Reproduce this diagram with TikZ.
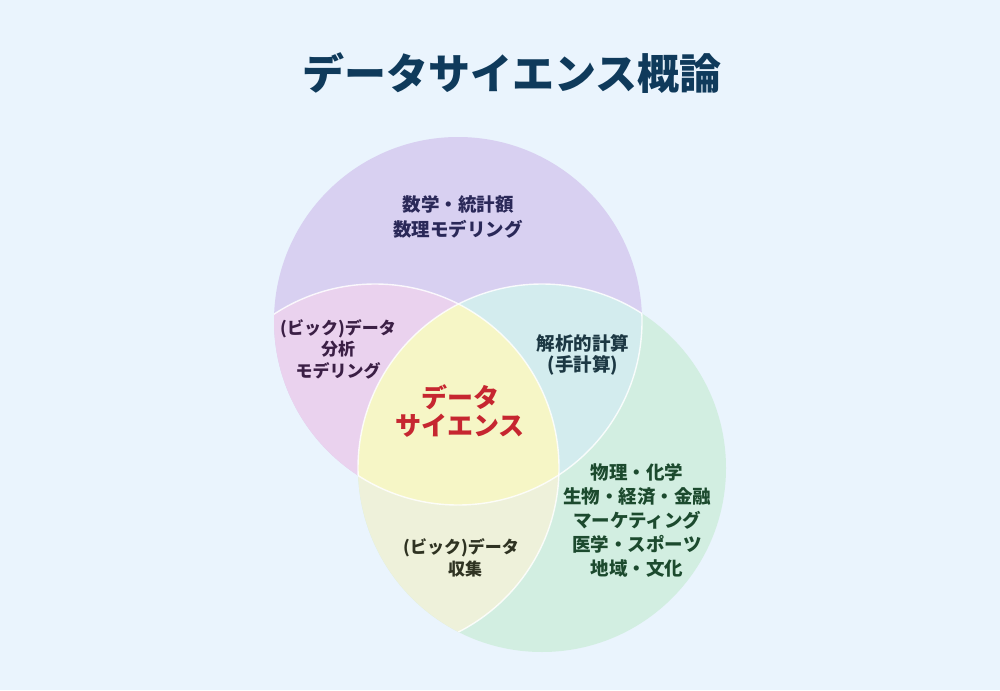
\documentclass[tikz,border=0pt]{standalone}
\usepackage{fontspec}
\setmainfont{Noto Sans CJK JP}
\definecolor{bgc}{HTML}{EAF4FD}
\definecolor{cpur}{HTML}{D8D0F1}
\definecolor{cpink}{HTML}{EAD2EE}
\definecolor{cblue}{HTML}{D3ECEE}
\definecolor{cyel}{HTML}{F6F6C6}
\definecolor{colive}{HTML}{EEF1DA}
\definecolor{cgreen}{HTML}{D2EEE1}
\definecolor{ttitle}{HTML}{0F3A5B}
\definecolor{tpur}{HTML}{2A2858}
\definecolor{tpink}{HTML}{3B1F45}
\definecolor{tblue}{HTML}{1C3843}
\definecolor{tred}{HTML}{C62630}
\definecolor{tolive}{HTML}{2F3322}
\definecolor{tgreen}{HTML}{1C4A2E}
\tikzset{
  lbl/.style={align=center, inner sep=0pt, font=\fontsize{18.5}{25}\selectfont\bfseries},
  lblsmall/.style={align=center, inner sep=0pt, font=\fontsize{17}{21.5}\selectfont\bfseries},
  sep/.style={draw=white, line width=1.4pt, draw opacity=0.85}
}
\begin{document}
\begin{tikzpicture}[x=1pt,y=-1pt]
\path[use as bounding box, fill=bgc] (0,0) rectangle (1000,690);
\coordinate (cP) at (458,321);
\coordinate (cG) at (542,468);
\coordinate (cY) at (375,468);
\def\R{184pt}
% base fills
\fill[cpur] (cP) circle[radius=\R];
\fill[cgreen] (cG) circle[radius=\R];
\begin{scope}
  \clip (cG) circle[radius=\R];
  \fill[colive] (cY) circle[radius=\R];
\end{scope}
\begin{scope}
  \clip (cP) circle[radius=\R];
  \fill[cpink] (cY) circle[radius=\R];
  \fill[cblue] (cG) circle[radius=\R];
  \clip (cG) circle[radius=\R];
  \fill[cyel] (cY) circle[radius=\R];
\end{scope}
% separating lines
\begin{scope}
  \clip (cP) circle[radius=\R];
  \draw[sep] (cG) circle[radius=\R];
\end{scope}
\begin{scope}
  \clip (cG) circle[radius=\R];
  \draw[sep] (cP) circle[radius=\R];
\end{scope}
\begin{scope}
  \clip (cP) circle[radius=\R] (cG) circle[radius=\R];
  \draw[sep] (cY) circle[radius=\R];
\end{scope}
% texts
\node[font=\fontsize{42}{46}\selectfont\bfseries, text=ttitle, inner sep=0pt] (title) at (512,73) {データサイエンス概論};
\node[lbl, text=tpur] (math) at (458,217) {数学・統計額\\数理モデリング};
\node[lblsmall, text=tpink] (anal) at (338,349) {(ビック)データ\\分析\\モデリング};
\node[lbl, font=\fontsize{18.5}{21}\selectfont\bfseries, text=tblue] (calc) at (583,355) {解析的計算\\(手計算)};
\node[align=center, inner sep=0pt, font=\fontsize{26}{28}\selectfont\bfseries, text=tred] (ds) at (460,411) {データ\\サイエンス};
\node[lblsmall, text=tolive] (coll) at (461,558) {(ビック)データ\\\hspace*{8pt}収集};
\node[lbl, font=\fontsize{18.5}{24}\selectfont\bfseries, text=tgreen] (dom) at (637,520) {物理・化学\\生物・経済・金融\\マーケティング\\医学・スポーツ\\地域・文化};
\end{tikzpicture}
\end{document}
